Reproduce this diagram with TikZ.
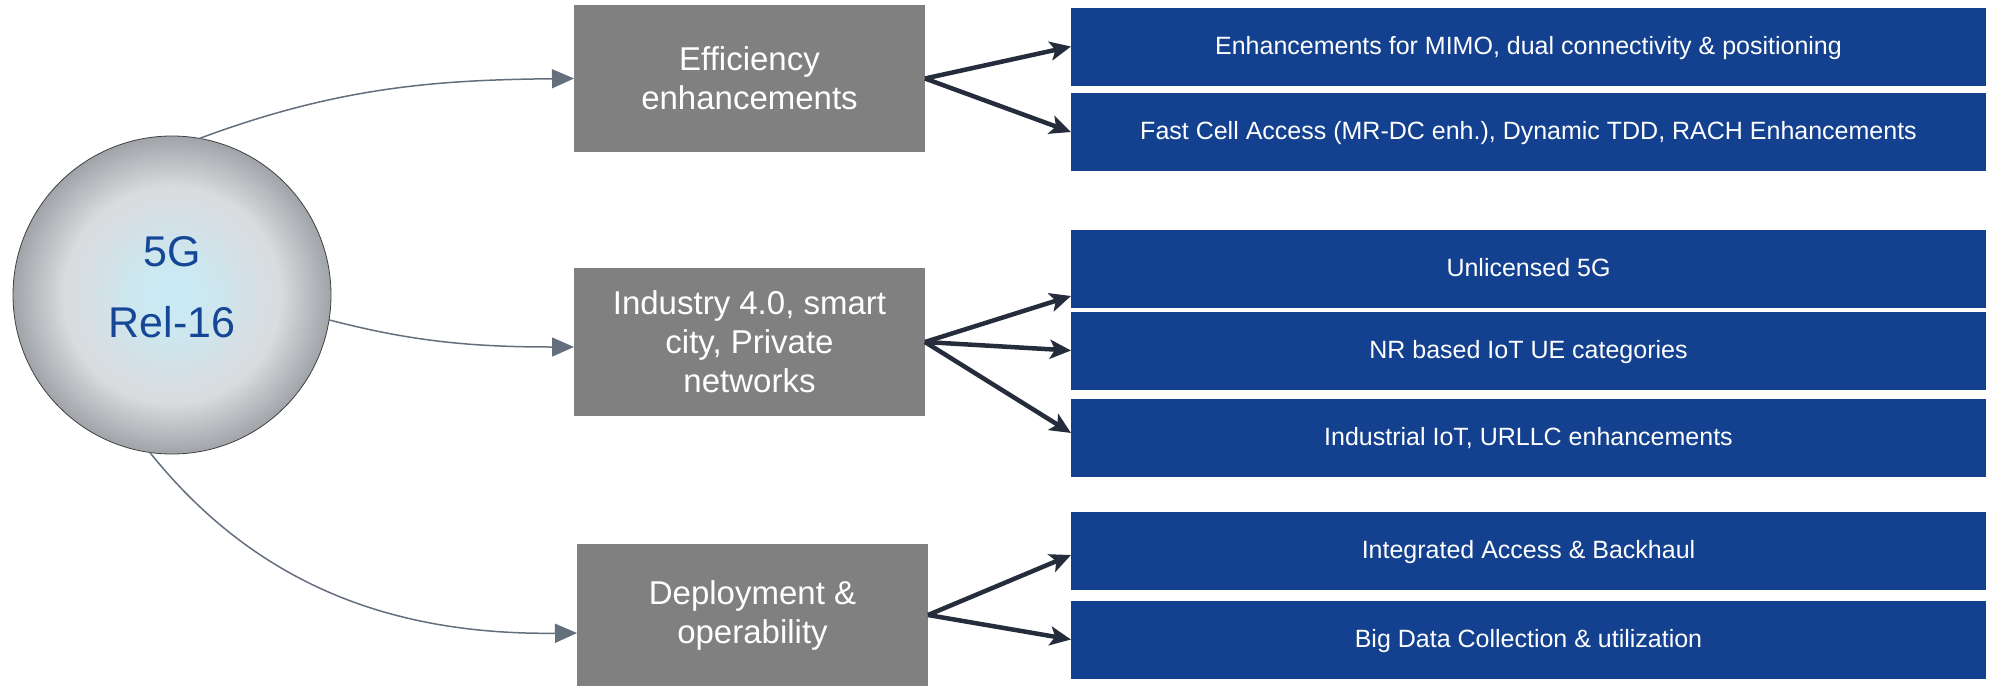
\documentclass[tikz,border=0pt]{standalone}
\usepackage{fontspec}
\setmainfont{Liberation Sans}
\usetikzlibrary{arrows.meta,calc}
\definecolor{bluebox}{RGB}{19,65,143}
\definecolor{graybox}{RGB}{128,128,128}
\definecolor{darkarrow}{RGB}{37,45,61}
\definecolor{thinarrow}{RGB}{100,111,126}
\definecolor{textblue}{RGB}{22,70,150}
\definecolor{sphcen}{RGB}{200,236,246}
\definecolor{sphin}{RGB}{206,230,238}
\definecolor{sphmid}{RGB}{217,219,221}
\definecolor{sphedge}{RGB}{160,164,169}
\pgfdeclareradialshading{relsphere}{\pgfpoint{0bp}{0bp}}{color(0bp)=(sphcen); color(7bp)=(sphin); color(17bp)=(sphmid); color(25bp)=(sphedge); color(50bp)=(sphedge)}
\begin{document}
\begin{tikzpicture}[x=1pt,y=1pt,
  graynode/.style={rectangle, fill=graybox, draw=none, minimum width=351pt, inner sep=0pt, outer sep=0pt, text=white, align=center, font=\fontsize{33}{39}\selectfont},
  bluenode/.style={rectangle, fill=bluebox, draw=none, minimum width=915pt, minimum height=78pt, inner sep=0pt, outer sep=0pt, text=white, text height=19pt, text depth=4pt, font=\fontsize{25}{30}\selectfont},
  thinarr/.style={draw=thinarrow, line width=1.5pt, -{Triangle[length=22pt,width=19pt]}},
  thickarr/.style={draw=darkarrow, line width=4.5pt, -{Stealth[length=21pt,width=19pt,inset=5pt]}}]
\useasboundingbox (0,0) rectangle (1993,-688);
\fill[white] (0,0) rectangle (1993,-688);

\node[circle, minimum size=318pt, inner sep=0pt, outer sep=0pt, draw=black!75, line width=0.8pt, shading=relsphere, shade, text=textblue, align=center, font=\fontsize{43}{71}\selectfont, text depth=16pt] (core) at (172,-295) {5G\\Rel-16};

\node[graynode, minimum height=147pt] (eff) at (749.5,-78.5) {Efficiency\\enhancements};
\node[graynode, minimum height=148pt] (ind) at (749.5,-342) {Industry 4.0, smart\\city, Private\\networks};
\node[graynode, minimum height=142pt] (dep) at (752.5,-615) {Deployment \&\\operability};

\node[bluenode] (b1) at (1528.5,-46.5) {Enhancements for MIMO, dual connectivity \& positioning};
\node[bluenode] (b2) at (1528.5,-132) {Fast Cell Access (MR-DC enh.), Dynamic TDD, RACH Enhancements};
\node[bluenode] (b3) at (1528.5,-269) {Unlicensed 5G};
\node[bluenode] (b4) at (1528.5,-350.5) {NR based IoT UE categories};
\node[bluenode] (b5) at (1528.5,-437.5) {Industrial IoT, URLLC enhancements};
\node[bluenode] (b6) at (1528.5,-551) {Integrated Access \& Backhaul};
\node[bluenode] (b7) at (1528.5,-639.5) {Big Data Collection \& utilization};

\draw[thinarr] (core.80) .. controls (340,-86) and (440,-80) .. (eff.west);
\draw[thinarr] (core.-9) .. controls (410,-341) and (470,-347) .. ([yshift=-5pt]ind.west);
\draw[thinarr] (core.262) .. controls (260,-590) and (400,-635) .. ([yshift=-18pt]dep.west);

\draw[thickarr] (eff.east) -- (b1.west);
\draw[thickarr] (eff.east) -- (b2.west);
\draw[thickarr] (ind.east) -- ([yshift=-27pt]b3.west);
\draw[thickarr] (ind.east) -- (b4.west);
\draw[thickarr] (ind.east) -- ([yshift=4.5pt]b5.west);
\draw[thickarr] (dep.east) -- ([yshift=-4pt]b6.west);
\draw[thickarr] (dep.east) -- (b7.west);
\end{tikzpicture}
\end{document}
